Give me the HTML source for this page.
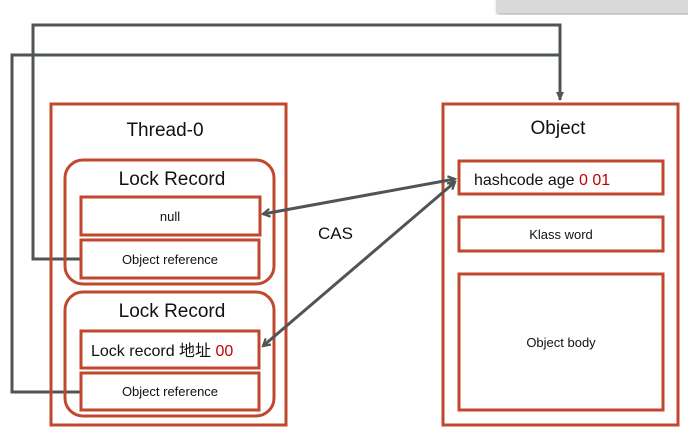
<!DOCTYPE html>
<html><head><meta charset="utf-8"><style>
html,body{margin:0;padding:0;background:#fff;}
svg{display:block;}
text{font-family:"Liberation Sans","Noto Sans CJK SC",sans-serif;fill:#111;}
</style></head><body>
<svg width="688" height="441" viewBox="0 0 688 441" xmlns="http://www.w3.org/2000/svg">
<defs>
<marker id="ah" markerWidth="10" markerHeight="10" refX="8" refY="5" orient="auto-start-reverse" markerUnits="userSpaceOnUse">
<path d="M1,1 L8,5 L1,9" fill="none" stroke="#4f5556" stroke-width="2.2"/>
</marker>
<marker id="ad" markerWidth="10" markerHeight="10" refX="8" refY="5" orient="auto" markerUnits="userSpaceOnUse">
<path d="M0,1 L9,5 L0,9 Z" fill="#4f5556"/>
</marker>
<filter id="sh"><feDropShadow dx="1" dy="2" stdDeviation="1.5" flood-color="#888" flood-opacity="0.6"/></filter>
</defs>
<rect x="496" y="-5" width="200" height="18" fill="#d9d9d9" filter="url(#sh)"/>
<g fill="none" stroke="#4f5556" stroke-width="3">
<polyline points="81,259 33,259 33,25 560,25 560,100" marker-end="url(#ad)"/>
<polyline points="81,392 12,392 12,55 560,55"/>
</g>
<g fill="none" stroke="#c0482e" stroke-width="3">
<rect x="51" y="104" width="235" height="321"/>
<rect x="443" y="104" width="235" height="321"/>
<rect x="65" y="160" width="209" height="124" rx="18"/>
<rect x="65" y="292" width="209" height="124" rx="18"/>
<rect x="81" y="197" width="179" height="38"/>
<rect x="81" y="240" width="178" height="38"/>
<rect x="81" y="331" width="178" height="37"/>
<rect x="81" y="373" width="178" height="37"/>
<rect x="459" y="161" width="204" height="33"/>
<rect x="459" y="217" width="204" height="34"/>
<rect x="459" y="274" width="204" height="136"/>
</g>
<g fill="none" stroke="#4f5556" stroke-width="3">
<line x1="263" y1="214" x2="455" y2="179" marker-end="url(#ah)" marker-start="url(#ah)"/>
<line x1="263" y1="346" x2="455" y2="182" marker-end="url(#ah)" marker-start="url(#ah)"/>
</g>
<text x="165" y="136" font-size="19" text-anchor="middle">Thread-0</text>
<text x="558" y="134" font-size="19" text-anchor="middle">Object</text>
<text x="172" y="185" font-size="19" text-anchor="middle">Lock Record</text>
<text x="172" y="317" font-size="19" text-anchor="middle">Lock Record</text>
<text x="170" y="221" font-size="13" text-anchor="middle">null</text>
<text x="170" y="264" font-size="13" text-anchor="middle">Object reference</text>
<text x="170" y="396" font-size="13" text-anchor="middle">Object reference</text>
<text x="91" y="356" font-size="16">Lock record 地址 <tspan fill="#c00000">00</tspan></text>
<text x="318" y="239" font-size="17">CAS</text>
<text x="474" y="185" font-size="16">hashcode age <tspan fill="#c00000">0 01</tspan></text>
<text x="561" y="239" font-size="13" text-anchor="middle">Klass word</text>
<text x="561" y="347" font-size="13" text-anchor="middle">Object body</text>
</svg>
</body></html>
